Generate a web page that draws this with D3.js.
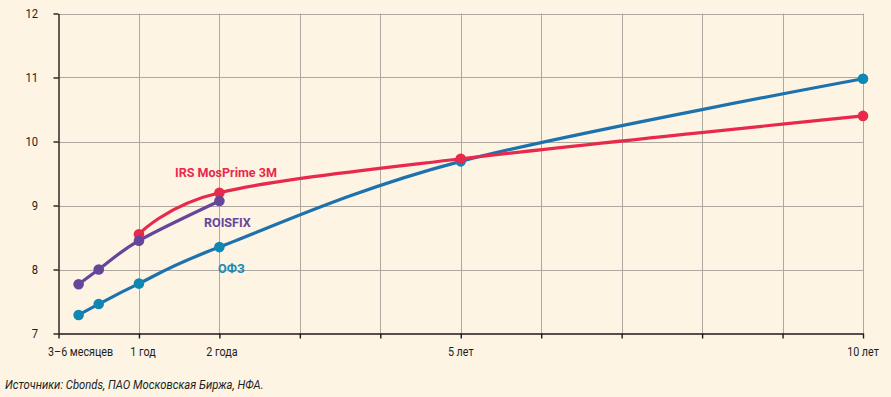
<!DOCTYPE html>
<html>
<head>
<meta charset="utf-8">
<script src="https://cdn.jsdelivr.net/npm/d3@7"></script>
<style>
  body { margin: 0; background: #fdf4e4; }
  svg { display: block; font-family: Roboto, "Noto Sans", sans-serif; }
</style>
</head>
<body>
<svg id="chart" width="891" height="397"></svg>
<script>
// maturities in years
const ofzTerms = [0.25, 0.5, 1, 2, 5, 10];
const ofzValues = [7.29, 7.46, 7.78, 8.35, 9.69, 10.98];
const roisfixTerms = [0.25, 0.5, 1, 2];
const roisfixValues = [7.77, 8.0, 8.45, 9.07];
const irsTerms = [1, 2, 5, 10];
const irsValues = [8.55, 9.2, 9.73, 10.4];

const xTickValues = [0, 1, 2, 3, 4, 5, 6, 7, 8, 9, 10];
const xLabelTerms = [0.25, 1, 2, 5, 10];
const xLabelTexts = ["3–6 месяцев", "1 год", "2 года", "5 лет", "10 лет"];
const yTickValues = [7, 8, 9, 10, 11, 12];

const layout = { left: 58.5, right: 863, top: 13.5, bottom: 333.5 };
const condensed = 0.86;

const svg = d3.select("#chart");

let x = d3.scaleLinear().domain([0, 10]).range([layout.left, layout.right]);
let y = d3.scaleLinear().domain([7, 12]).range([layout.bottom, layout.top]);

// grid
let grid = svg.append("g").attr("class", "grid");
grid.selectAll(".hgrid").data(yTickValues.slice(1)).enter()
    .append("line")
    .attr("x1", layout.left)
    .attr("x2", layout.right)
    .attr("y1", function(d) { return Math.round(y(d)) + 0.5; })
    .attr("y2", function(d) { return Math.round(y(d)) + 0.5; })
    .attr("stroke", "#aea89f")
    .attr("stroke-width", 1);
grid.selectAll(".vgrid").data(xTickValues.slice(1)).enter()
    .append("line")
    .attr("x1", function(d) { return Math.round(x(d)) + 0.5; })
    .attr("x2", function(d) { return Math.round(x(d)) + 0.5; })
    .attr("y1", layout.top)
    .attr("y2", layout.bottom)
    .attr("stroke", "#aea89f")
    .attr("stroke-width", 1);

// axes
let leftAxis = svg.append("g")
    .attr("transform", "translate(" + layout.left + ",0)")
    .call(d3.axisLeft(y).tickValues(yTickValues).tickSize(5).tickSizeOuter(0).tickFormat(""));
let bottomAxis = svg.append("g")
    .attr("transform", "translate(0," + layout.bottom + ")")
    .call(d3.axisBottom(x).tickValues(xTickValues).tickSize(5).tickSizeOuter(0).tickFormat(""));
[leftAxis, bottomAxis].forEach(function(a) {
    a.select(".domain").attr("stroke", "#1e1a18").attr("stroke-width", 1.4);
    a.selectAll(".tick line").attr("stroke", "#1e1a18").attr("stroke-width", 1.4);
});

// tick labels, slightly condensed like the original typeface
svg.append("g").selectAll("text").data(yTickValues).enter()
    .append("text")
    .attr("transform", function(d) { return "translate(38," + (y(d) + 4.5) + ") scale(" + condensed + ",1)"; })
    .attr("text-anchor", "end")
    .attr("font-size", 13)
    .attr("fill", "#231f1c")
    .text(function(d) { return d; });

const labelNudge = [2, 4, 2.5, 0, 0];
svg.append("g").selectAll("text").data(d3.zip(xLabelTerms, xLabelTexts)).enter()
    .append("text")
    .attr("transform", function(d, i) { return "translate(" + (x(d[0]) + labelNudge[i]) + ",355.5) scale(" + condensed + ",1)"; })
    .attr("text-anchor", "middle")
    .attr("font-size", 12.5)
    .attr("fill", "#231f1c")
    .text(function(d) { return d[1]; });

// series
const series = [
    { terms: ofzTerms, values: ofzValues, line: "#1d72ae", dot: "#0e88b2" },
    { terms: irsTerms, values: irsValues, line: "#e8294b", dot: "#e8294b" },
    { terms: roisfixTerms, values: roisfixValues, line: "#66469a", dot: "#66469a" }
];

let line = d3.line()
    .x(function(d) { return x(d[0]); })
    .y(function(d) { return y(d[1]); })
    .curve(d3.curveCardinal.tension(0));

series.forEach(function(s) {
    let pts = d3.zip(s.terms, s.values);
    svg.append("path")
        .datum(pts)
        .attr("d", line)
        .attr("fill", "none")
        .attr("stroke", s.line)
        .attr("stroke-width", 3.2);
});
series.forEach(function(s) {
    let pts = d3.zip(s.terms, s.values);
    svg.append("g").selectAll("circle").data(pts).enter()
        .append("circle")
        .attr("cx", function(d) { return x(d[0]); })
        .attr("cy", function(d) { return y(d[1]); })
        .attr("r", 5.3)
        .attr("fill", s.dot);
});

// series labels
const labels = [
    { text: "IRS MosPrime 3M", x: 175, y: 176.5, color: "#e8294b" },
    { text: "ROISFIX", x: 204, y: 227, color: "#66469a" },
    { text: "ОФЗ", x: 218, y: 272.5, color: "#178ab8" }
];
svg.append("g").selectAll("text").data(labels).enter()
    .append("text")
    .attr("transform", function(d) { return "translate(" + d.x + "," + d.y + ") scale(0.93,1)"; })
    .attr("font-size", 13.5)
    .attr("font-weight", "bold")
    .attr("fill", function(d) { return d.color; })
    .text(function(d) { return d.text; });

svg.append("text")
    .attr("transform", "translate(5,389) scale(0.9,1)")
    .attr("font-size", 12.5)
    .attr("font-style", "italic")
    .attr("fill", "#231f1c")
    .text("Источники: Cbonds, ПАО Московская Биржа, НФА.");
</script>
</body>
</html>
